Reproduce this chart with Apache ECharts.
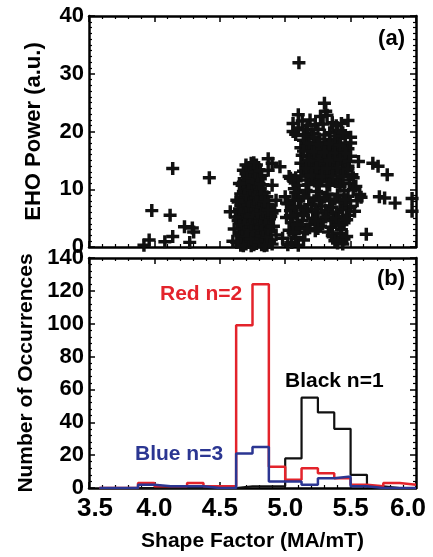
<!DOCTYPE html>
<html><head><meta charset="utf-8">
<script src="https://cdn.jsdelivr.net/npm/echarts@6/dist/echarts.min.js"></script>
<style>html,body{margin:0;padding:0;background:#fff}#c{width:433px;height:557px}</style>
</head><body><div id="c"></div>
<script>
// ---- data ----
const xTickLabels = ['3.5','4.0','4.5','5.0','5.5','6.0'];
const yTickLabelsA = ['0','10','20','30','40'];
const yTickLabelsB = ['0','20','40','60','80','100','120','140'];
const binEdges = [3.58,3.625,3.75,3.875,4.0,4.125,4.25,4.375,4.5,4.625,4.75,4.875,5.0,5.125,5.25,5.375,5.5,5.625,5.75,5.875,6.0];
const redCounts   = [0,0,0,3,1,1,3,1,1,99,124,13,5,12,9,6,2,1,3,2];
const blueCounts  = [0,0,0,2,1,1,1,0,0,21,25,4,4,2,6,7,1,0,0,0];
const blackCounts = [0,0,0,0,0,0,0,0,0,1,1,1,18,55,46,36,8,1,0,0];

const ehoPoints = [
 // isolated points
 [3.96,1.2],[3.92,0.3],[3.98,6.3],[4.12,5.5],[4.14,13.6],[4.42,12.0],[4.08,0.9],[4.14,1.8],
 [4.23,3.5],[4.29,3.3],[4.30,2.6],[4.27,0.8],[4.58,6.1],[5.105,31.9],
 // cluster 1
 [4.66,0.3],[4.70,0.5],[4.74,0.2],[4.78,0.6],[4.82,0.4],[4.86,0.3],[4.90,0.5],[4.63,0.8],
 [4.68,1.5],[4.72,1.2],[4.76,1.8],[4.80,1.4],[4.84,1.6],[4.88,1.2],
 [4.65,2.5],[4.69,2.8],[4.73,2.4],[4.77,2.9],[4.81,2.6],[4.85,2.3],[4.89,2.7],
 [4.67,3.6],[4.71,3.9],[4.75,3.4],[4.79,3.8],[4.83,3.5],[4.87,3.9],
 [4.64,4.6],[4.68,4.9],[4.72,4.5],[4.76,4.8],[4.80,4.4],[4.84,4.7],[4.88,4.9],
 [4.66,5.7],[4.70,5.5],[4.74,5.9],[4.78,5.6],[4.82,5.8],[4.86,5.4],[4.90,5.9],
 [4.65,6.6],[4.69,6.9],[4.73,6.5],[4.77,6.8],[4.81,6.4],[4.85,6.7],
 [4.67,7.7],[4.71,7.5],[4.75,7.9],[4.79,7.6],[4.83,7.8],[4.87,7.4],
 [4.66,8.6],[4.70,8.9],[4.74,8.5],[4.78,8.8],[4.82,8.4],[4.86,8.7],
 [4.68,9.6],[4.72,9.9],[4.76,9.5],[4.80,9.8],[4.84,9.4],
 [4.67,10.7],[4.71,10.5],[4.75,10.9],[4.79,10.6],[4.83,10.8],
 [4.69,11.6],[4.73,11.9],[4.77,11.5],[4.81,11.8],
 [4.70,12.7],[4.74,12.5],[4.78,12.9],[4.82,12.4],
 [4.72,13.6],[4.76,13.9],[4.80,13.4],[4.74,14.5],[4.78,14.2],
 [4.64,0.9],[4.68,0.2],[4.72,0.8],[4.76,0.4],[4.80,0.9],[4.84,0.2],[4.88,0.8],
 [4.66,2.0],[4.70,1.9],[4.74,1.4],[4.78,2.2],[4.82,1.9],[4.86,1.8],
 [4.67,3.1],[4.71,3.2],[4.75,2.9],[4.79,3.3],[4.83,3.0],[4.87,3.1],
 [4.66,4.1],[4.70,4.3],[4.74,4.0],[4.78,4.2],[4.82,4.0],[4.86,4.3],
 [4.65,5.2],[4.69,5.1],[4.73,5.3],[4.77,5.2],[4.81,5.0],[4.85,5.1],[4.89,5.3],
 [4.67,6.2],[4.71,6.1],[4.75,6.3],[4.79,6.0],[4.83,6.2],[4.87,6.0],
 [4.66,7.2],[4.70,7.1],[4.74,7.3],[4.78,7.1],[4.82,7.0],[4.86,7.2],
 [4.68,8.2],[4.72,8.0],[4.76,8.3],[4.80,8.1],[4.84,8.0],
 [4.66,9.2],[4.70,9.0],[4.74,9.3],[4.78,9.1],[4.82,9.2],
 [4.69,10.2],[4.73,10.0],[4.77,10.3],[4.81,10.1],
 [4.68,11.2],[4.72,11.1],[4.76,11.3],[4.80,11.0],
 [4.71,12.2],[4.75,12.0],[4.79,12.3],[4.73,13.1],[4.77,13.0],[4.81,13.2],[4.76,14.6],
 [4.62,5.2],[4.61,3.1],[4.60,1.0],[4.64,7.8],[4.91,3.6],[4.92,6.3],[4.93,8.1],[4.93,2.1],
 [4.90,10.7],[4.87,6.4],[4.65,11.0],[4.68,13.3],[4.70,14.2],[4.63,8.1],
 [4.87,15.3],[4.90,14.5],[4.96,13.9],[4.87,13.3],
 // cluster 2 upper
 [5.30,24.9],[5.31,23.5],[5.32,22.8],[5.10,22.9],[5.06,21.4],[5.13,21.8],[5.19,22.0],[5.23,21.2],
 [5.27,22.6],[5.36,21.5],[5.43,21.4],[5.48,21.9],[5.06,20.0],[5.16,20.3],[5.10,20.6],[5.20,19.6],
 [5.25,20.4],[5.34,19.8],[5.40,20.2],[5.46,19.3],[5.50,19.0],
 [5.14,18.5],[5.18,18.9],[5.22,18.2],[5.26,18.7],[5.30,18.1],[5.34,18.6],[5.38,18.3],[5.42,18.8],[5.46,18.0],
 [5.12,17.2],[5.16,17.5],[5.20,17.0],[5.24,17.4],[5.28,16.9],[5.32,17.3],[5.36,16.8],[5.40,17.1],[5.44,16.7],[5.48,17.0],
 [5.13,15.9],[5.17,15.6],[5.21,16.0],[5.25,15.5],[5.29,15.8],[5.33,15.4],[5.37,15.9],[5.41,15.6],[5.45,15.3],[5.50,15.7],
 [5.12,14.5],[5.16,14.2],[5.20,14.6],[5.24,14.1],[5.28,14.4],[5.32,14.0],[5.36,14.5],[5.40,14.2],[5.44,14.6],[5.48,14.0],
 [5.14,13.1],[5.18,12.8],[5.22,13.2],[5.26,12.7],[5.30,13.0],[5.34,12.6],[5.38,13.1],[5.42,12.8],[5.46,13.3],[5.51,12.5],
 [5.16,11.6],[5.20,11.9],[5.24,11.4],[5.28,11.8],[5.32,11.3],[5.36,11.7],[5.40,11.2],[5.44,11.6],[5.49,11.0],
 [5.14,19.3],[5.22,19.0],[5.30,19.4],[5.38,19.2],[5.44,19.8],
 [5.18,17.9],[5.26,17.8],[5.34,17.9],[5.42,17.6],[5.50,18.0],
 [5.14,16.6],[5.22,16.5],[5.30,16.4],[5.38,16.3],[5.46,16.2],
 [5.18,15.0],[5.26,14.9],[5.34,15.0],[5.42,15.1],[5.49,14.8],
 [5.16,13.6],[5.24,13.7],[5.32,13.6],[5.40,13.7],[5.48,13.5],
 [5.12,12.3],[5.20,12.4],[5.28,12.2],[5.36,12.3],[5.44,12.2],
 [5.18,10.8],[5.26,10.6],[5.34,10.7],[5.42,10.5],
 [5.17,21.0],[5.29,21.3],[5.39,21.0],[5.08,19.5],
 [5.08,12.0],[5.06,11.6],[5.07,10.1],[5.03,12.2],[5.10,10.7],[5.04,11.9],
 // right-side outliers
 [5.56,14.8],[5.67,14.5],[5.71,14.0],[5.78,12.5],[5.72,8.7],[5.76,8.5],[5.84,7.6],[5.97,8.4],[5.97,6.2],[5.62,2.2],
 [5.52,12.0],[5.54,10.5],[5.52,9.9],[5.57,9.1],[5.55,8.0],[5.50,7.0],[5.53,6.2],[5.47,6.8],[5.58,8.6],
 // cluster 2 lower
 [5.00,8.7],[5.02,7.5],[5.04,6.3],[5.01,5.1],[5.05,4.2],[5.03,2.9],[5.07,2.3],
 [5.08,9.4],[5.10,8.2],[5.12,7.0],[5.09,5.8],[5.13,4.6],[5.11,3.4],[5.15,2.5],
 [5.16,9.8],[5.18,8.5],[5.20,7.3],[5.17,6.1],[5.21,5.0],[5.19,3.9],[5.23,2.8],
 [5.24,9.6],[5.26,8.3],[5.28,7.1],[5.25,5.9],[5.29,4.8],[5.27,3.6],
 [5.32,9.2],[5.34,8.0],[5.36,6.9],[5.33,5.7],[5.37,4.6],[5.35,3.4],
 [5.40,9.0],[5.42,7.8],[5.44,6.5],[5.41,5.3],[5.45,4.2],[5.43,3.0],
 [5.48,8.8],[5.46,7.6],[5.49,5.5],[5.45,9.8],
 [5.06,8.1],[5.14,8.8],[5.22,8.0],[5.30,8.6],[5.38,8.3],[5.46,8.2],
 [5.07,6.9],[5.15,6.5],[5.23,6.6],[5.31,6.3],[5.39,6.0],
 [5.06,5.0],[5.14,5.5],[5.23,4.4],[5.31,5.2],[5.39,4.9],[5.47,4.7],
 [5.09,3.9],[5.17,3.1],[5.25,3.2],[5.33,2.6],[5.41,3.8],
 [5.36,2.0],[5.39,1.6],[5.42,2.3],[5.45,1.4],[5.40,0.7],[5.38,1.1],[5.44,0.5],[5.47,1.8],
 [5.05,0.8],[5.10,0.3],[5.14,1.2],[4.98,1.5],[5.02,0.4],[5.08,1.6],[5.01,7.6],[5.04,5.4],[5.06,2.5]
];

// ---- chart ----
const FONT = '"Liberation Sans", Arial, sans-serif';
const lbl = {fontFamily: FONT, fontWeight: 'bold', fontSize: 22, color: '#000'};
function stepData(counts){
  const d = counts.map((c,i)=>[binEdges[i], c]);
  d.push([binEdges[binEdges.length-1], counts[counts.length-1]]);
  return d;
}
const xLabelRich = {
  f:{fontFamily:FONT, fontWeight:'bold', fontSize:26, color:'#000', padding:[0,0,0,12]},
  m:{fontFamily:FONT, fontWeight:'bold', fontSize:26, color:'#000'},
  l:{fontFamily:FONT, fontWeight:'bold', fontSize:26, color:'#000', padding:[0,16,0,0]}
};
function xAx(grid, pos, showLabel){
  return {type:'value', gridIndex:grid, position:pos, min:3.5, max:6.0, interval:0.5,
    axisLine:{show:true, onZero:false, lineStyle:{color:'#000', width:2.5}},
    axisTick:{show:true, inside:true, length:6, lineStyle:{color:'#000', width:1.5}},
    minorTick:{show:true, splitNumber:5, length:3, lineStyle:{color:'#000', width:1.2}},
    splitLine:{show:false},
    axisLabel:{show:showLabel, margin:8, ...lbl, fontSize:26, rich:xLabelRich,
      formatter:v=>{
        const i = Math.round((v-3.5)/0.5);
        const k = i===0 ? 'f' : (i===xTickLabels.length-1 ? 'l' : 'm');
        return '{'+k+'|'+xTickLabels[i]+'}';
      }}};
}
function yAx(grid, pos, max, interval, minorN, labels, showLabel, name, nameSize){
  return {type:'value', gridIndex:grid, position:pos, min:0, max:max, interval:interval,
    axisLine:{show:true, onZero:false, lineStyle:{color:'#000', width:2.5}},
    axisTick:{show:true, inside:true, length:6, lineStyle:{color:'#000', width:1.5}},
    minorTick:{show:true, splitNumber:minorN, length:3, lineStyle:{color:'#000', width:1.2}},
    splitLine:{show:false},
    name: name || '', nameLocation:'middle', nameGap:44,
    nameTextStyle:{...lbl, fontSize:nameSize || 22},
    axisLabel:{show:showLabel, margin:5, ...lbl,
      formatter:v=>labels[Math.round(v/interval)]}};
}
const chart = echarts.init(document.getElementById('c'), null, {renderer:'canvas'});
chart.setOption({
  backgroundColor:'#fff',
  animation:false,
  grid:[
    {left:89, top:16, width:327, height:231, containLabel:false, outerBoundsMode:'none'},
    {left:89, top:258, width:327, height:230, containLabel:false, outerBoundsMode:'none'}
  ],
  xAxis:[
    xAx(0,'bottom',false), xAx(0,'top',false),
    {...xAx(1,'bottom',true), name:'Shape Factor (MA/mT)', nameLocation:'middle', nameGap:43,
      nameTextStyle:{...lbl, fontSize:21}},
    xAx(1,'top',false)
  ],
  yAxis:[
    yAx(0,'left',40,10,10,yTickLabelsA,true,'EHO Power (a.u.)',22),
    yAx(0,'right',40,10,10,yTickLabelsA,false),
    yAx(1,'left',140,20,5,yTickLabelsB,true,'Number of Occurrences',21),
    yAx(1,'right',140,20,5,yTickLabelsB,false)
  ],
  series:[
    {type:'scatter', xAxisIndex:0, yAxisIndex:0, data:ehoPoints,
      symbol:'path://M4.4,0H7.6V4.4H12V7.6H7.6V12H4.4V7.6H0V4.4H4.4Z', symbolSize:13,
      itemStyle:{color:'#111', opacity:1}, silent:true},
    {type:'line', xAxisIndex:2, yAxisIndex:2, step:'end', data:stepData(blackCounts), showSymbol:false,
      lineStyle:{color:'#111', width:2.2}, silent:true},
    {type:'line', xAxisIndex:2, yAxisIndex:2, step:'end', data:stepData(redCounts), showSymbol:false,
      lineStyle:{color:'#e3232b', width:2.5}, silent:true},
    {type:'line', xAxisIndex:2, yAxisIndex:2, step:'end', data:stepData(blueCounts), showSymbol:false,
      lineStyle:{color:'#2b3692', width:2.5}, silent:true}
  ],
  graphic:[
    {type:'text', right:28, top:28, style:{text:'(a)', font:'bold 22px '+FONT, fill:'#000'}},
    {type:'text', right:28, top:268, style:{text:'(b)', font:'bold 22px '+FONT, fill:'#000'}},
    {type:'text', left:160, top:284, style:{text:'Red n=2', font:'bold 21px '+FONT, fill:'#e3232b'}},
    {type:'text', left:285, top:371, style:{text:'Black n=1', font:'bold 21px '+FONT, fill:'#000'}},
    {type:'text', left:135, top:444, style:{text:'Blue n=3', font:'bold 21px '+FONT, fill:'#2b3692'}}
  ]
});
</script></body></html>
